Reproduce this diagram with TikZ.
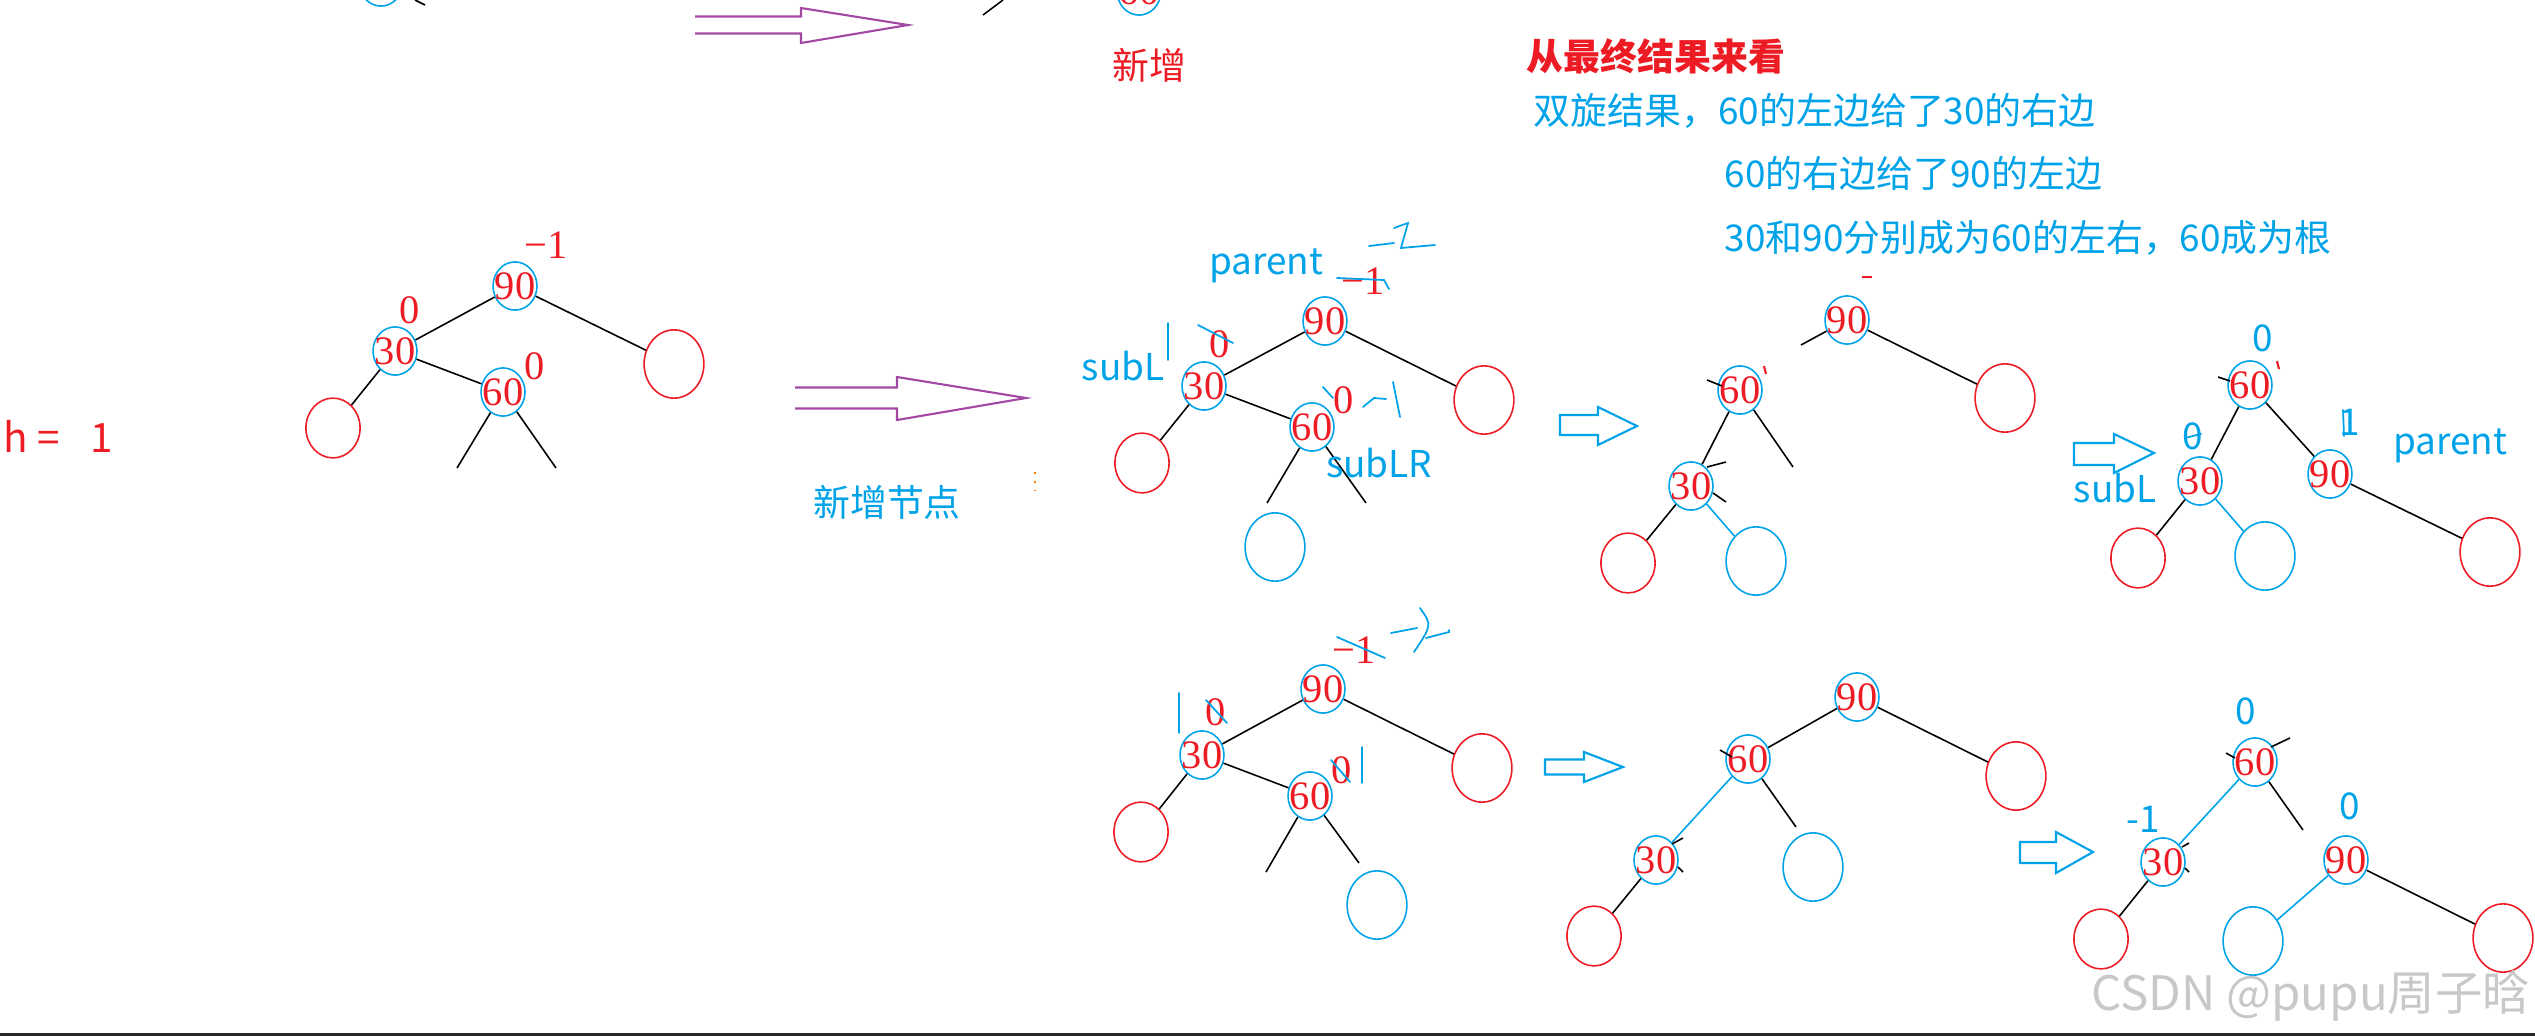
\documentclass[tikz,border=0pt]{standalone}
\usepackage{fontspec}
\setmainfont{Liberation Serif}
\newfontfamily\cjk{Noto Sans CJK SC}
\usetikzlibrary{shapes.geometric}
\definecolor{kred}{HTML}{ED1C24}
\definecolor{kblue}{HTML}{00A2E8}
\definecolor{kpurple}{HTML}{A349A4}
\definecolor{kmark}{HTML}{C8C8C8}
\newcommand{\keyfont}{\rmfamily\fontsize{11.5pt}{13pt}\selectfont}
\newcommand{\notefont}{\cjk\fontsize{10.5pt}{12pt}\selectfont}
\tikzset{
  key/.style={ellipse, draw=kblue, text=kred, font=\keyfont, line width=0.45pt,
    inner xsep=-1.4pt, inner ysep=0pt, minimum width=12.5pt, minimum height=13.7pt},
  leafbig/.style={ellipse, line width=0.45pt, inner sep=0pt, minimum width=17pt, minimum height=19.4pt},
  leafsmall/.style={ellipse, line width=0.45pt, inner sep=0pt, minimum width=15.4pt, minimum height=17pt},
  edge/.style={line width=0.45pt},
  bedge/.style={kblue, line width=0.45pt},
  bfred/.style={text=kred, font=\keyfont, inner sep=0pt},
  note/.style={text=kblue, font=\notefont, inner sep=0pt},
  scrib/.style={kblue, line width=0.5pt, line cap=round},
  purplearrow/.style={kpurple, line width=0.6pt},
  bluearrow/.style={kblue, line width=0.6pt}
}
\begin{document}
\begin{tikzpicture}[x=0.01cm, y=-0.01cm]
\useasboundingbox (0,0) rectangle (2535,1036);
\clip (0,0) rectangle (2535,1036);

% top strip, cut off
\node[key] (t1) at (381,-18) {};
\draw[edge] (415,0) -- (425,5);
\draw[purplearrow] (695,16.5) -- (801,16.5) -- (801,8) -- (908,25) -- (801,43) -- (801,33.5) -- (695,33.5);
\draw[edge] (1003,0) -- (983,15);
\node[key] (t60) at (1139,-9) {60};
\node[note, text=kred] (tnew) at (1149,65) {新增};

% notes
\node[note, text=kred, font=\notefont\bfseries, anchor=west] (title) at (1526,56) {从最终结果来看};
\node[note, anchor=west] (line1) at (1533,111) {双旋结果，60的左边给了30的右边};
\node[note, anchor=west] (line2) at (1724,173) {60的右边给了90的左边};
\node[note, anchor=west] (line3) at (1724,238) {30和90分别成为60的左右，60成为根};

% tree before insert
\node[note, text=kred, font=\cjk\fontsize{11.5pt}{13pt}\selectfont, anchor=west] (h) at (3,436) {h =\hspace{0.75em}1};
\node[key] (a90) at (515,286) {90};
\node[key] (a30) at (395,351) {30};
\node[key] (a60) at (503,392) {60};
\node[leafbig, draw=kred] (aR) at (674,364) {};
\node[leafsmall, draw=kred] (aL) at (333,428) {};
\coordinate (a60l) at (457,468);
\coordinate (a60r) at (556,468);
\draw[edge] (a90) -- (a30);
\draw[edge] (a90) -- (aR);
\draw[edge] (a30) -- (aL);
\draw[edge] (a30) -- (a60);
\draw[edge] (a60) -- (a60l);
\draw[edge] (a60) -- (a60r);
\node[bfred] (a90bf) at (546,245) {−1};
\node[bfred] (a30bf) at (410,310) {0};
\node[bfred] (a60bf) at (535,366) {0};

\draw[purplearrow] (795,387.5) -- (897,387.5) -- (897,377) -- (1026,398) -- (897,420) -- (897,408.5) -- (795,408.5);
\node[note] (newnode) at (887,502) {新增节点};
\draw[orange, line width=0.5pt, dotted] (1035,472) -- (1035,495);

% after insert
\node[note] (bpar) at (1266,266) {parent};
\node[key] (b90) at (1325,321) {90};
\node[key] (b30) at (1204,386) {30};
\node[key] (b60) at (1312,427) {60};
\node[leafbig, draw=kred] (bR) at (1484,400) {};
\node[leafsmall, draw=kred] (bL) at (1142,463) {};
\node[leafbig, draw=kblue] (bB) at (1275,547) {};
\coordinate (b60l) at (1267,503);
\coordinate (b60r) at (1366,503);
\draw[edge] (b90) -- (b30);
\draw[edge] (b90) -- (bR);
\draw[edge] (b30) -- (bL);
\draw[edge] (b30) -- (b60);
\draw[edge] (b60) -- (b60l);
\draw[edge] (b60) -- (b60r);
\node[bfred] (b90bf) at (1363,281) {−1};
\node[bfred] (b30bf) at (1220,344) {0};
\node[bfred] (b60bf) at (1344,400) {0};
\node[note] (bsubL) at (1123,366) {subL};
\node[note] (bsubLR) at (1379,463) {subLR};
\draw[scrib] (1168,323) -- (1168,360);
\draw[scrib] (1369,246) -- (1394,243);
\draw[scrib] (1394,228) -- (1408,223) -- (1401,248) -- (1435,245);
\draw[scrib] (1337,278) -- (1384,280) -- (1389,289);
\draw[scrib] (1198,325) -- (1233,343);
\draw[scrib] (1323,387) -- (1333,398);
\draw[scrib] (1363,407) -- (1374,398) -- (1386,399);
\draw[scrib] (1393,382) -- (1400,417);

\draw[bluearrow] (1560,415) -- (1598,415) -- (1598,407) -- (1637,426) -- (1598,445) -- (1598,435) -- (1560,435) -- cycle;

% first rotation
\node[key] (c90) at (1847,320) {90};
\node[key] (c60) at (1740,390) {60};
\node[key] (c30) at (1691,486) {30};
\node[leafbig, draw=kred] (cR) at (2005,398) {};
\node[leafsmall, draw=kred] (cL) at (1628,563) {};
\node[leafbig, draw=kblue] (cB) at (1756,561) {};
\coordinate (c90l) at (1801,345);
\coordinate (c60r) at (1793,467);
\draw[edge] (c90) -- (c90l);
\draw[edge] (c90) -- (cR);
\draw[edge] (c60) -- (c30);
\draw[edge] (c60) -- (c60r);
\draw[edge] (c30) -- (cL);
\draw[bedge] (c30) -- (cB);
\draw[edge] (1707,380) -- (1722,386);
\draw[edge] (1707,467) -- (1726,462);
\draw[edge] (1713,493) -- (1726,502);
\draw[kred, line width=0.6pt] (1862,277) -- (1872,277);
\draw[kred, line width=0.6pt] (1764,366) -- (1766,374);

\draw[bluearrow] (2074,443) -- (2114,443) -- (2114,434) -- (2154,453) -- (2114,473) -- (2114,465) -- (2074,465) -- cycle;

% second rotation
\node[key] (d60) at (2250,385) {60};
\node[key] (d30) at (2200,481) {30};
\node[key] (d90) at (2330,474) {90};
\node[leafsmall, draw=kred] (dL) at (2138,558) {};
\node[leafbig, draw=kblue] (dB) at (2265,556) {};
\node[leafbig, draw=kred] (dR) at (2490,552) {};
\draw[edge] (d60) -- (d30);
\draw[edge] (d60) -- (d90);
\draw[edge] (d30) -- (dL);
\draw[bedge] (d30) -- (dB);
\draw[edge] (d90) -- (dR);
\node[note] (d60bf) at (2263,338) {0};
\node[note] (d30bf) at (2193,436) {0};
\node[note] (d90bf) at (2350,422) {1};
\draw[scrib] (2185,438) -- (2201,434);
\draw[scrib] (2343,410) -- (2344,436);
\node[note] (dsubL) at (2115,488) {subL};
\node[note] (dpar) at (2450,446) {parent};
\draw[edge] (2218,377) -- (2230,381);
\draw[kred, line width=0.6pt] (2277,361) -- (2279,369);

% lower row, before
\node[key] (e90) at (1323,689) {90};
\node[key] (e30) at (1202,755) {30};
\node[key] (e60) at (1310,796) {60};
\node[leafbig, draw=kred] (eR) at (1482,768) {};
\node[leafsmall, draw=kred] (eL) at (1141,832) {};
\node[leafbig, draw=kblue] (eB) at (1377,905) {};
\coordinate (e60l) at (1266,872);
\coordinate (e60r) at (1359,863);
\draw[edge] (e90) -- (e30);
\draw[edge] (e90) -- (eR);
\draw[edge] (e30) -- (eL);
\draw[edge] (e30) -- (e60);
\draw[edge] (e60) -- (e60l);
\draw[edge] (e60) -- (e60r);
\node[bfred] (e90bf) at (1354,650) {−1};
\node[bfred] (e30bf) at (1216,712) {0};
\node[bfred] (e60bf) at (1342,770) {0};
\draw[scrib] (1179,693) -- (1179,733);
\draw[scrib] (1362,747) -- (1362,783);
\draw[scrib] (1206,700) -- (1227,723);
\draw[scrib] (1331,760) -- (1350,782);
\draw[scrib] (1337,637) -- (1385,658);
\draw[scrib] (1391,633) -- (1417,628);
\draw[scrib] (1420,608) .. controls (1432,625) .. (1414,652);
\draw[scrib] (1426,638) -- (1449,632) -- (1449,630);

\draw[bluearrow] (1545,759.5) -- (1584,759.5) -- (1584,752) -- (1623,767) -- (1584,782) -- (1584,774.5) -- (1545,774.5) -- cycle;

% lower row, first rotation
\node[key] (f90) at (1857,697) {90};
\node[key] (f60) at (1748,759) {60};
\node[key] (f30) at (1656,860) {30};
\node[leafbig, draw=kred] (fR) at (2016,776) {};
\node[leafbig, draw=kblue] (fB) at (1813,867) {};
\node[leafsmall, draw=kred] (fL) at (1594,936) {};
\coordinate (f60r) at (1796,827);
\draw[edge] (f90) -- (f60);
\draw[edge] (f90) -- (fR);
\draw[bedge] (f60) -- (f30);
\draw[edge] (f60) -- (f60r);
\draw[edge] (f30) -- (fL);
\draw[edge] (1720,750) -- (1732,757);
\draw[edge] (1672,844) -- (1683,838);
\draw[edge] (1678,867) -- (1683,872);

\draw[bluearrow] (2020,842) -- (2056,842) -- (2056,832) -- (2093,852) -- (2056,873) -- (2056,863) -- (2020,863) -- cycle;

% lower row, second rotation
\node[key] (g60) at (2255,762) {60};
\node[key] (g30) at (2163,862) {30};
\node[key] (g90) at (2346,860) {90};
\node[leafsmall, draw=kred] (gL) at (2101,939) {};
\node[leafbig, draw=kblue] (gB) at (2253,941) {};
\node[leafbig, draw=kred] (gR) at (2503,938) {};
\coordinate (g60r) at (2303,830);
\draw[bedge] (g60) -- (g30);
\draw[edge] (g60) -- (g60r);
\draw[edge] (g30) -- (gL);
\draw[bedge] (g90) -- (gB);
\draw[edge] (g90) -- (gR);
\node[note] (g60bf) at (2246,711) {0};
\node[note] (g30bf) at (2143,819) {-1};
\node[note] (g90bf) at (2350,806) {0};
\draw[edge] (2226,753) -- (2235,758);
\draw[edge] (2271,747) -- (2290,738);
\draw[edge] (2182,847) -- (2189,843);
\draw[edge] (2185,868) -- (2189,872);

% watermark and bottom rule
\node[text=kmark, font=\cjk\fontsize{13.5pt}{15pt}\selectfont, inner sep=0pt] (mark) at (2311,996) {CSDN @pupu周子晗};
\draw[line width=0.9pt, black!85] (0,1034.5) -- (2535,1034.5);
\end{tikzpicture}
\end{document}
